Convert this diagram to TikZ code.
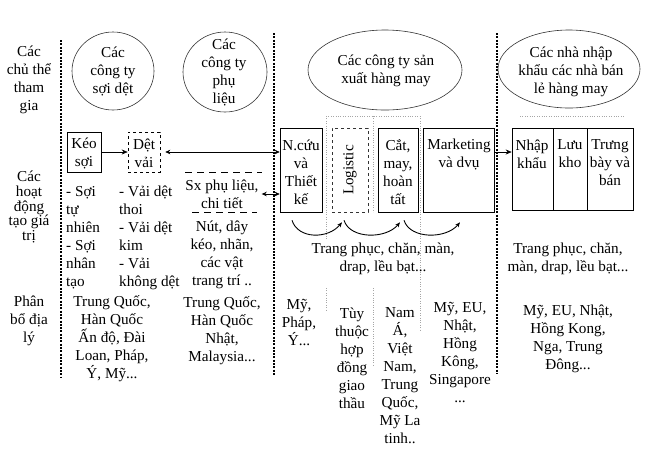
\documentclass[tikz,border=0pt]{standalone}
\usepackage{fontspec}
\setmainfont{Liberation Serif}
\usetikzlibrary{shapes.geometric,arrows.meta}
\begin{document}
\begin{tikzpicture}[x=1pt,y=-1pt,
  txt/.style={font=\fontsize{15.2}{18}\selectfont, align=center, inner sep=0pt},
  sepline/.style={line width=2pt, dash pattern=on 2pt off 1.3pt},
  box/.style={draw, line width=0.6pt, inner sep=0pt},
  oval/.style={draw=black!80, ellipse, line width=0.6pt, inner sep=0pt},
  arr/.style={-{Stealth[length=6pt,width=5pt]}, line width=0.6pt},
  darr/.style={{Stealth[length=5pt,width=4.5pt]}-{Stealth[length=5pt,width=4.5pt]}, line width=0.6pt},
  swoosh/.style={-{Stealth[length=5pt,width=4pt]}, line width=0.9pt},
  gridl/.style={gray!70, line width=0.4pt, dotted},
  dashl/.style={line width=0.6pt, dash pattern=on 7pt off 5pt}
]
\useasboundingbox (0,0) rectangle (647,448);

% separators
\draw[sepline] (61,40) -- (61,377);
\draw[sepline] (274,33) -- (274,375);
\draw[sepline] (497,33) -- (497,373);

% faint grid remnants
\draw[gridl] (326,116) -- (420,116);
\draw[gridl] (326,116) -- (326,240);
\draw[gridl] (326,288) -- (326,310);
\draw[gridl] (373,116) -- (373,212);
\draw[gridl] (373,288) -- (373,365);
\draw[gridl] (420,116) -- (420,330);
\draw[gridl] (520,116) -- (625,116);

% left labels
\node[txt] (l1) at (29,80) {Các\\chủ thể\\tham\\gia};
\node[txt, font=\fontsize{15.2}{14.8}\selectfont] (l2) at (29,207) {Các\\hoạt\\động\\tạo giá\\trị};
\node[txt] (l3) at (29,321) {Phân\\bổ địa\\lý};

% ellipses
\node[oval, minimum width=82pt, minimum height=78pt] (e1) at (113,71) {};
\node[txt] (e1t) at (113,71) {Các\\công ty\\sợi dệt};
\node[oval, minimum width=84pt, minimum height=80pt] (e2) at (225,72) {};
\node[txt] (e2t) at (224,72) {Các\\công ty\\phụ\\liệu};
\node[oval, minimum width=154pt, minimum height=80pt] (e3) at (385,70) {};
\node[txt] (e3t) at (386,71) {Các công ty sản\\xuất hàng may};
\node[oval, minimum width=142pt, minimum height=78pt] (e4) at (569,69) {};
\node[txt] (e4t) at (571,72) {Các nhà nhập\\khẩu các nhà bán\\lẻ hàng may};

% activity boxes, left
\node[box, minimum width=34pt, minimum height=40pt] (keo) at (84,152) {};
\node[txt] (keot) at (84,153) {Kéo\\sợi};
\node[box, dashed, minimum width=32pt, minimum height=40pt] (det) at (144,152) {};
\node[txt] (dett) at (144,153) {Dệt\\vải};

\node[txt] (sx) at (222,194) {Sx phụ liệu,\\chi tiết};
\draw[dashl] (185,172) -- (262,172);
\draw[dashl] (192,212) -- (257,212);

\node[txt, align=left, anchor=west] (c1) at (66,238) {- Sợi\\tự\\nhiên\\- Sợi\\nhân\\tạo};
\node[txt, align=left, anchor=west] (c2) at (119,238) {- Vải dệt\\thoi\\- Vải dệt\\kim\\- Vải\\không dệt};
\node[txt] (c3) at (222,255) {Nút, dây\\kéo, nhãn,\\các vật\\trang trí ..};

% manufacturing boxes
\node[box, minimum width=42pt, minimum height=84pt] (ncuu) at (301,170) {};
\node[txt] (ncuut) at (301,172) {N.cứu\\và\\Thiết\\kế};
\node[box, dashed, draw=black!80, minimum width=36pt, minimum height=84pt] (logi) at (350,170) {};
\node[txt, rotate=90] (logit) at (350,170) {Logistic};
\node[box, minimum width=40pt, minimum height=84pt] (cat) at (398,170) {};
\node[txt] (catt) at (398,172) {Cắt,\\may,\\hoàn\\tất};
\node[box, minimum width=71pt, minimum height=84pt] (mkt) at (458.5,170) {};
\node[txt] (mktt) at (459,154) {Marketing\\và dvụ};

% importer boxes
\node[box, minimum width=41pt, minimum height=82pt] (nk) at (532.5,169) {};
\node[txt] (nkt) at (532,154) {Nhập\\khẩu};
\node[box, minimum width=34pt, minimum height=82pt] (lk) at (570,169) {};
\node[txt] (lkt) at (570,154) {Lưu\\kho};
\node[box, minimum width=46pt, minimum height=82pt] (tb) at (610,169) {};
\node[txt] (tbt) at (610,163) {Trưng\\bày và\\bán};

% arrows
\draw[arr] (keo) -- (det);
\draw[darr] ([xshift=5pt]det.east) -- (det.east -| ncuu.west);
\draw[darr] ([xshift=3pt]sx.east) -- (sx.east -| ncuu.west);
\draw[arr] ([yshift=18pt]mkt.east) -- ([yshift=18pt]mkt.east -| nk.west);

% curved arrows
\draw[swoosh] ([shift={(-9,8)}]ncuu.south) .. controls +(6,19) and +(-14,17) .. ([shift={(-8,10)}]logi.south);
\draw[swoosh] ([shift={(-6,8)}]logi.south) .. controls +(6,19) and +(-14,17) .. ([shift={(2,10)}]cat.south);
\draw[swoosh] ([shift={(6,8)}]cat.south) .. controls +(6,19) and +(-14,17) .. ([shift={(1.5,10)}]mkt.south);

% products
\node[txt] (p1) at (383,259) {Trang phục, chăn, màn,\\drap, lều bạt...};
\node[txt] (p2) at (568,259) {Trang phục, chăn,\\màn, drap, lều bạt...};

% geography
\node[txt] (g1) at (112,339) {Trung Quốc,\\Hàn Quốc\\Ấn độ, Đài\\Loan, Pháp,\\Ý, Mỹ...};
\node[txt] (g2) at (222,331) {Trung Quốc,\\Hàn Quốc\\Nhật,\\Malaysia...};
\node[txt] (g3) at (299,322) {Mỹ,\\Pháp,\\Ý...};
\node[txt] (g4) at (352,358) {Tùy\\thuộc\\hợp\\đồng\\giao\\thầu};
\node[txt] (g5) at (400,376) {Nam\\Á,\\Việt\\Nam,\\Trung\\Quốc,\\Mỹ La\\tinh..};
\node[txt] (g6) at (460,352) {Mỹ, EU,\\Nhật,\\Hồng\\Kông,\\Singapore\\...};
\node[txt] (g7) at (568,339) {Mỹ, EU, Nhật,\\Hồng Kong,\\Nga, Trung\\Đông...};
\end{tikzpicture}
\end{document}
